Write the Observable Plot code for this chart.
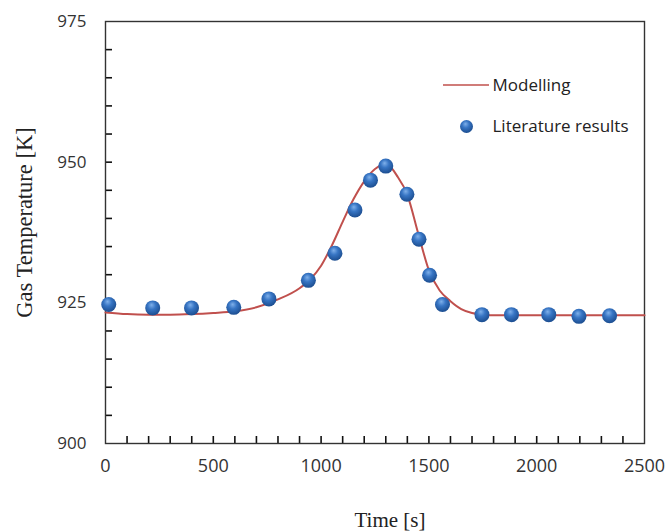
<!DOCTYPE html>
<html>
<head>
<meta charset="utf-8">
<script src="https://cdn.jsdelivr.net/npm/d3@7"></script>
<script src="https://cdn.jsdelivr.net/npm/@observablehq/plot@0.6"></script>
<style>
  body { margin: 0; background: #fff; }
  #chart { width: 668px; height: 532px; }
</style>
</head>
<body>
<div id="chart"></div>
<script>
// Modelled gas temperature over time
const modelTime = [0, 100, 200, 300, 400, 500, 600, 700, 800, 900, 950, 1000, 1050, 1100, 1150, 1200, 1250, 1290, 1320, 1350, 1400, 1450, 1500, 1550, 1600, 1650, 1700, 1750, 1800, 2000, 2200, 2500];
const modelTemp = [923.3, 923.0, 922.9, 922.9, 923.0, 923.2, 923.5, 924.2, 925.6, 927.6, 929.2, 931.6, 935.2, 939.4, 943.4, 946.6, 948.8, 949.6, 949.2, 947.7, 944.2, 937.4, 930.8, 927.2, 925.3, 923.9, 923.2, 922.9, 922.8, 922.8, 922.8, 922.8];

// Literature results
const litTime = [15, 219, 399, 595, 758, 941, 1064, 1157, 1229, 1300, 1398, 1454, 1503, 1563, 1746, 1883, 2056, 2196, 2338];
const litTemp = [924.7, 924.1, 924.1, 924.2, 925.7, 929.0, 933.8, 941.5, 946.8, 949.3, 944.3, 936.3, 929.9, 924.7, 922.9, 922.9, 922.9, 922.6, 922.7];

// Axis ticks
const xTickLabels = [0, 500, 1000, 1500, 2000, 2500];
const yTickLabels = [900, 925, 950, 975];
const xTickMarks = d3.range(100, 2500, 100);
const yTickMarks = d3.range(905, 975, 5);

const model = modelTime.map((t, i) => ({t, T: modelTemp[i]}));
const lit = litTime.map((t, i) => ({t, T: litTemp[i]}));

const W = 668, H = 532;
const mL = 105, mR = 24, mT = 21, mB = 89;
const frameW = W - mL - mR, frameH = H - mT - mB;
const tickLen = 7;

const sans = "'Open Sans', 'DejaVu Sans', sans-serif";
const serif = "'Liberation Serif', 'DejaVu Serif', serif";

const svg = Plot.plot({
  width: W,
  height: H,
  marginLeft: mL,
  marginRight: mR,
  marginTop: mT,
  marginBottom: mB,
  x: {domain: [0, 2500]},
  y: {domain: [900, 975]},
  style: {fontFamily: sans, background: "#fff", color: "#333"},
  marks: [
    // inward tick marks along the bottom and left edges
    Plot.tickX(xTickMarks, {x: d => d, insetTop: frameH - tickLen, stroke: "#111", strokeWidth: 1.6}),
    Plot.tickY(yTickMarks, {y: d => d, insetRight: frameW - tickLen, stroke: "#111", strokeWidth: 1.6}),
    // tick labels
    Plot.axisX(xTickLabels, {tickSize: 0, tickPadding: 16, fontSize: 18, fill: "#333", label: null, tickFormat: d => String(d)}),
    Plot.axisY(yTickLabels, {tickSize: 0, tickPadding: 19, fontSize: 17, fill: "#333", label: null, tickFormat: d => String(d)}),
    Plot.frame({stroke: "#333", strokeWidth: 1.4}),
    Plot.line(model, {x: "t", y: "T", stroke: "#c0504d", strokeWidth: 2, curve: "monotone-x"}),
    Plot.dot(lit, {x: "t", y: "T", r: 7.5, fill: "url(#ball)", stroke: "none"}),
    // axis titles
    Plot.text(["Time [s]"], {frameAnchor: "bottom", dx: 15, dy: 77, textAnchor: "middle", lineAnchor: "middle", fontFamily: serif, fontSize: 21, fill: "#222"}),
    Plot.text(["Gas Temperature [K]"], {frameAnchor: "left", dx: -81, dy: -10, rotate: -90, textAnchor: "middle", lineAnchor: "middle", fontFamily: serif, fontSize: 22.5, fill: "#222"}),
    // legend
    Plot.text(["Modelling"], {frameAnchor: "top-left", dx: 387, dy: 64, textAnchor: "start", lineAnchor: "middle", fontSize: 17, fill: "#222"}),
    Plot.dot([0], {frameAnchor: "top-left", dx: 361, dy: 105, r: 6.5, fill: "url(#ball)", stroke: "none"}),
    Plot.text(["Literature results"], {frameAnchor: "top-left", dx: 387, dy: 105, textAnchor: "start", lineAnchor: "middle", fontSize: 17, fill: "#222"})
  ]
});

// shaded sphere fill for the markers
const s = d3.select(svg);
const defs = s.insert("defs", ":first-child");
const grad = defs.append("radialGradient")
  .attr("id", "ball").attr("cx", "45%").attr("cy", "38%").attr("r", "60%").attr("fx", "42%").attr("fy", "30%");
grad.append("stop").attr("offset", "0%").attr("stop-color", "#7fb0ea");
grad.append("stop").attr("offset", "45%").attr("stop-color", "#3775c4");
grad.append("stop").attr("offset", "100%").attr("stop-color", "#1d4f92");

// legend line swatch
s.append("line")
  .attr("x1", 443).attr("x2", 489).attr("y1", 85).attr("y2", 85)
  .attr("stroke", "#c0504d").attr("stroke-width", 1.5);

document.getElementById("chart").appendChild(svg);
</script>
</body>
</html>
